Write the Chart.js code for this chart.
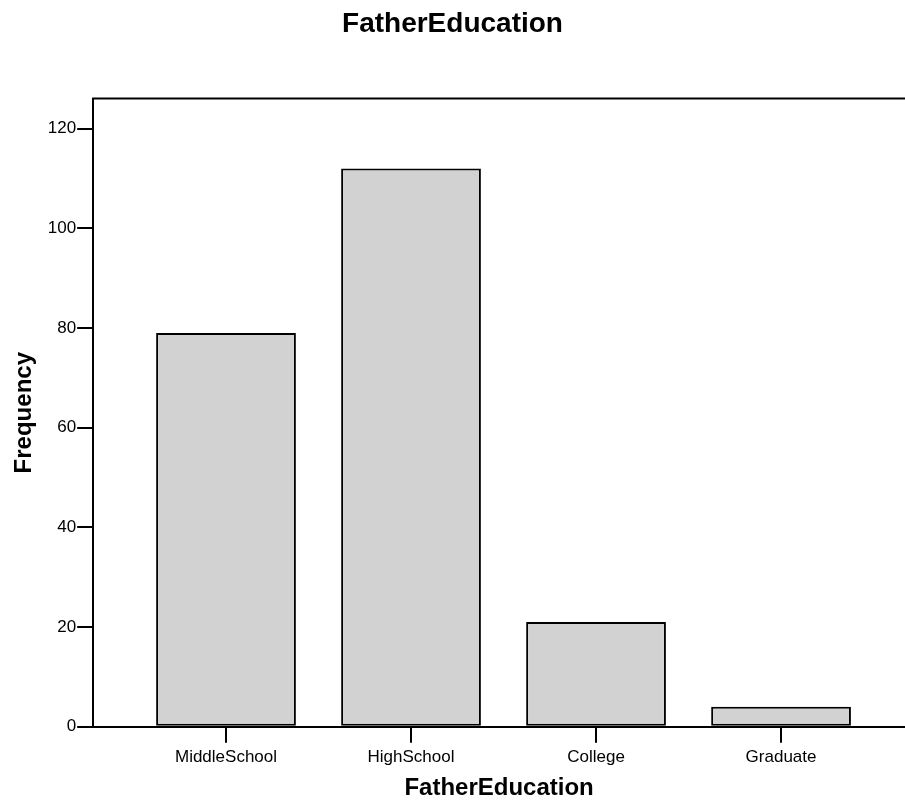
<!DOCTYPE html>
<html>
<head>
<meta charset="utf-8">
<script src="https://cdn.jsdelivr.net/npm/chart.js@4"></script>
<style>
  html, body { margin: 0; padding: 0; background: #fff; }
  #wrap { width: 905px; height: 803px; }
</style>
</head>
<body>
<div id="wrap"><canvas id="myChart"></canvas></div>
<script>
const categories = ["MiddleSchool", "HighSchool", "College", "Graduate"];
const frequency = [79, 112, 21, 4];
const yTicks = [0, 20, 40, 60, 80, 100, 120];

const fontFamily = "'Liberation Sans', Arial, sans-serif";

// top frame line of the plot
const topLine = {
  id: "topLine",
  afterDraw(chart) {
    const { ctx, chartArea } = chart;
    ctx.save();
    ctx.strokeStyle = "#000";
    ctx.lineWidth = 2;
    ctx.beginPath();
    ctx.moveTo(chartArea.left - 1, chartArea.top);
    ctx.lineTo(chartArea.right, chartArea.top);
    ctx.stroke();
    ctx.restore();
  },
};

const data = {
  datasets: [
    {
      data: categories.map((c, i) => ({ x: i, y: frequency[i] })),
      backgroundColor: "#d2d2d2",
      borderColor: "#000",
      borderWidth: 2,
      borderSkipped: false,
      categoryPercentage: 1,
      barPercentage: 0.7555,
    },
  ],
};

const config = {
  type: "bar",
  data: data,
  options: {
    responsive: true,
    maintainAspectRatio: false,
    animation: false,
    layout: { padding: 0 },
    plugins: {
      legend: { display: false },
      tooltip: { enabled: false },
      title: {
        display: true,
        text: "FatherEducation",
        color: "#000",
        font: { family: fontFamily, size: 28, weight: "bold" },
        padding: { top: 7, bottom: 58 },
      },
    },
    scales: {
      x: {
        type: "linear",
        offset: false,
        min: -0.718,
        max: 3.67,
        afterBuildTicks: (scale) => {
          scale.ticks = categories.map((c, i) => ({ value: i }));
        },
        ticks: {
          color: "#000",
          font: { family: fontFamily, size: 17 },
          padding: 4,
          maxRotation: 0,
          autoSkip: false,
          callback: (value) => categories[value],
        },
        grid: {
          offset: false,
          drawOnChartArea: false,
          color: "#000",
          lineWidth: 2,
          tickLength: 16,
        },
        border: { display: true, color: "#000", width: 2 },
        title: {
          display: true,
          text: "FatherEducation",
          color: "#000",
          font: { family: fontFamily, size: 24, weight: "bold" },
          padding: { top: 3, bottom: 0 },
        },
      },
      y: {
        min: 0,
        max: 126,
        afterBuildTicks: (scale) => {
          scale.ticks = yTicks.map((v) => ({ value: v }));
        },
        ticks: {
          color: "#000",
          font: { family: fontFamily, size: 17 },
          padding: 1,
        },
        grid: {
          drawOnChartArea: false,
          color: "#000",
          lineWidth: 2,
          tickLength: 16,
        },
        border: { display: true, color: "#000", width: 2 },
        title: {
          display: true,
          text: "Frequency",
          color: "#000",
          font: { family: fontFamily, size: 24, weight: "bold" },
          padding: { top: 10, bottom: 8 },
        },
      },
    },
  },
  plugins: [topLine],
};

const myChart = new Chart(document.getElementById("myChart"), config);
</script>
</body>
</html>
